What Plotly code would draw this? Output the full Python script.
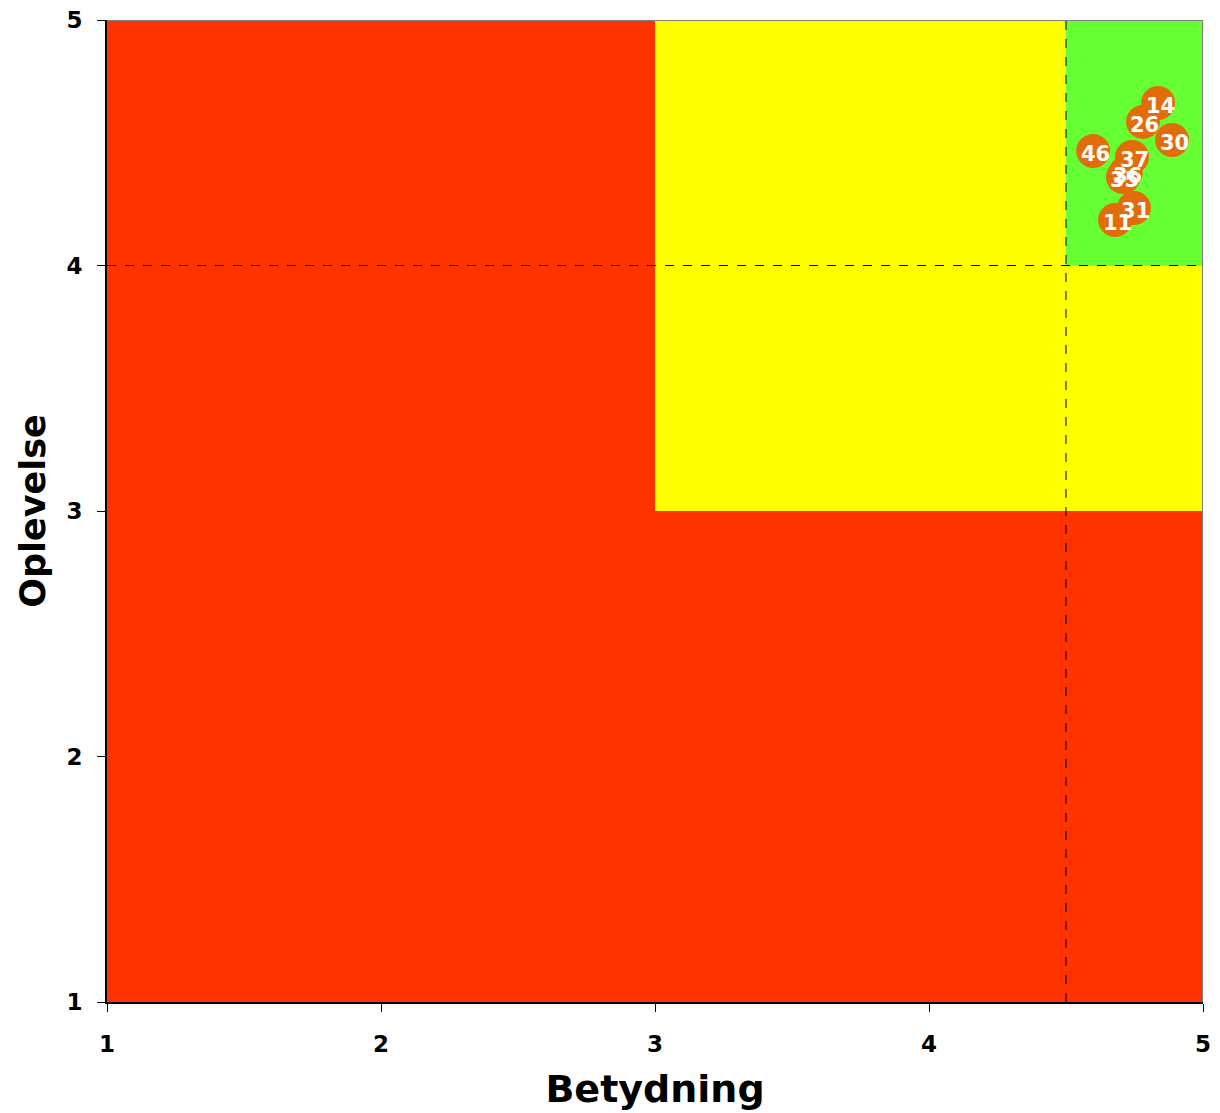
import plotly.graph_objects as go

# Item scores: importance (Betydning) vs. experience (Oplevelse)
labels = ["14", "26", "30", "46", "37", "36", "35", "31", "11"]
betydning = [4.836, 4.781, 4.887, 4.599, 4.741, 4.718, 4.708, 4.748, 4.679]
oplevelse = [4.662, 4.585, 4.511, 4.466, 4.442, 4.378, 4.360, 4.234, 4.185]

tick_vals = [1, 2, 3, 4, 5]
x_threshold = 4.5
y_threshold = 4

RED = "#FF3300"
YELLOW = "#FFFF00"
GREEN = "#66FF33"
MARKER = "#E36C0A"

fig = go.Figure()

fig.add_trace(go.Scatter(
    x=betydning, y=oplevelse, mode="markers",
    marker=dict(size=34, color=MARKER, line=dict(width=0)),
    hoverinfo="skip", showlegend=False, cliponaxis=False,
))

shapes = [
    dict(type="rect", xref="x", yref="y", x0=1, x1=5, y0=1, y1=5,
         fillcolor=RED, line=dict(width=0), layer="below"),
    dict(type="rect", xref="x", yref="y", x0=3, x1=5, y0=3, y1=5,
         fillcolor=YELLOW, line=dict(width=0), layer="below"),
    dict(type="rect", xref="x", yref="y", x0=x_threshold, x1=5, y0=y_threshold, y1=5,
         fillcolor=GREEN, line=dict(width=0), layer="below"),
    dict(type="line", xref="x", yref="y", x0=x_threshold, x1=x_threshold, y0=1, y1=5,
         line=dict(color="black", width=1, dash="dash"), layer="below"),
    dict(type="line", xref="x", yref="y", x0=1, x1=5, y0=y_threshold, y1=y_threshold,
         line=dict(color="black", width=1, dash="dash"), layer="below"),
    # grey frame on the top and right edges
    dict(type="line", xref="x", yref="y", x0=1, x1=5, y0=5, y1=5,
         line=dict(color="#808080", width=2)),
    dict(type="line", xref="x", yref="y", x0=5, x1=5, y0=1, y1=5,
         line=dict(color="#808080", width=2)),
]

# point labels, centred a touch below each marker's centre
annotations = [
    dict(x=bx, y=oy, xref="x", yref="y", text=lab, showarrow=False,
         yshift=-3, xshift=2,
         font=dict(family="DejaVu Sans", size=21, color="white", weight="bold"))
    for lab, bx, oy in zip(labels, betydning, oplevelse)
]

axis_common = dict(
    range=[1, 5], tickvals=tick_vals, showgrid=False, zeroline=False,
    showline=True, linecolor="black", linewidth=2, automargin=False,
    ticks="outside", ticklen=8, tickcolor="black", tickwidth=1,
    tickfont=dict(family="DejaVu Sans", size=23, color="black", weight="bold"),
)

fig.update_layout(
    width=1220, height=1113,
    margin=dict(l=107, r=17, t=20, b=111),
    paper_bgcolor="white", plot_bgcolor="white",
    shapes=shapes,
    annotations=annotations,
    xaxis=dict(**axis_common, ticklabelstandoff=12,
               title=dict(text="Betydning", standoff=20,
                          font=dict(family="DejaVu Sans", size=38, color="black", weight="bold"))),
    yaxis=dict(**axis_common, ticklabelstandoff=10,
               title=dict(text="Oplevelse", standoff=10,
                          font=dict(family="DejaVu Sans", size=35, color="black", weight="bold"))),
)

fig.write_html("out.html")
